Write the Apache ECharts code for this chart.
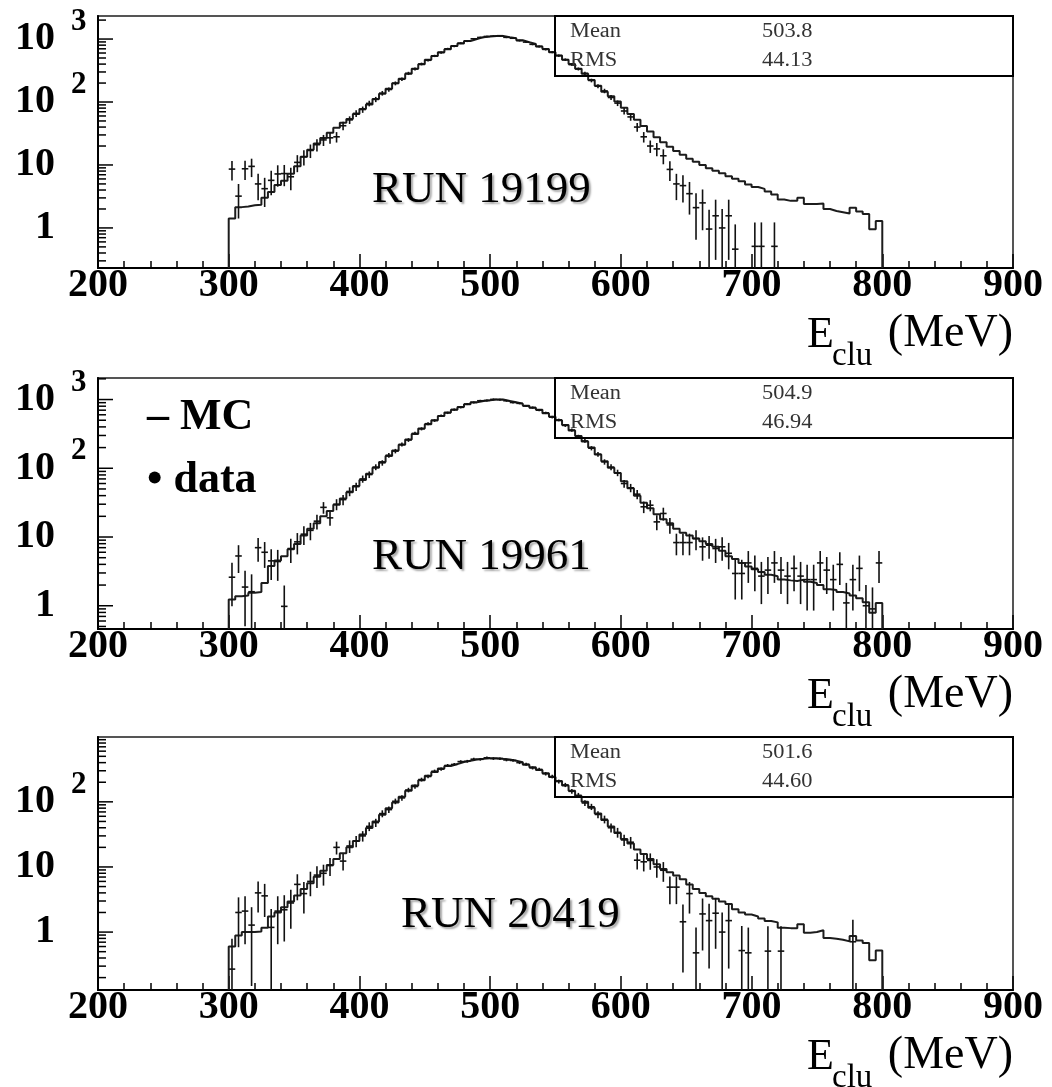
<!DOCTYPE html>
<html>
<head>
<meta charset="utf-8">
<script src="https://cdn.jsdelivr.net/npm/echarts@6/dist/echarts.min.js"></script>
<style>
html,body{margin:0;padding:0;background:#fff;}
#chart{width:1052px;height:1087px;}
</style>
</head>
<body>
<div id="chart"></div>
<script>
// ---------------- data ----------------
const BIN_START = 300;      // first bin low edge (MeV)
const BIN_WIDTH = 5;        // bin width (MeV)
const xTickValues = [200, 300, 400, 500, 600, 700, 800, 900];

const runLabels = ['RUN 19199', 'RUN 19961', 'RUN 20419'];
const statMean  = ['503.8', '504.9', '501.6'];
const statRMS   = ['44.13', '46.94', '44.60'];

const yMin = [0.231, 0.459, 0.129];
const yMax = [2323, 2057, 990];

const yLabelValues = [1, 10, 100, 1000];
const yLabelBase   = ['1', '10', '10', '10'];
const yLabelExp    = ['', '', '2', '3'];

// RUN 19199
const mc19199 = [
  1.41, 2.14, 2.19, 2.29, 2.34, 3.02, 3.72, 4.79, 5.62, 7.24,
  9.55, 13.5, 17.4, 21.9, 26.9, 32.4, 38.9, 46.8, 53.7, 64.6,
  77.6, 91.0, 112, 135, 162, 199, 234, 282, 339, 398,
  468, 537, 617, 688, 776, 851, 933, 1000, 1072, 1096,
  1122, 1122, 1072, 1030, 955, 891, 832, 759, 692, 617,
  550, 468, 402, 339, 282, 224, 182, 146, 123, 102,
  81.3, 64.6, 52.5, 41.7, 33.9, 27.5, 22.9, 19.5, 16.6, 14.5,
  12.6, 11.2, 10.0, 8.91, 8.13, 7.41, 6.61, 6.03, 5.50, 4.90,
  4.47, 4.17, 3.80, 3.39, 2.82, 2.69, 2.69, 3.02, 2.40, 2.40,
  2.45, 2.00, 1.86, 1.78, 1.70, 2.09, 1.82, 1.66, 0.95, 1.29
];
const data19199 = [
  8.6, 3.2, 8.7, 9.5, 5.0, 4.2, 5.7, 7.2, 7.3, 6.5,
  11, 13.5, 17, 21, 25, 27, 28, 42, 52, 66,
  76, 95, 110, 138, 158, 198, 230, 285, 335, 402,
  460, 540, 610, 700, 770, 860, 925, 1010, 1060, 1100,
  1110, 1130, 1065, 1030, 945, 895, 825, 765, 685, 620,
  545, 470, 392, 335, 285, 220, 178, 150, 118, 96,
  72, 58, 40, 28, 20, 18, 14, 8.5, 5.0, 4.7,
  3.5, 2.1, 2.5, 0.96, 1.56, 1.0, 1.56, 0.46, null, null,
  0.51, 0.51, null, 0.51, null, null, null, null, null, null,
  null, null, null, null, null, null, null, null, null, null
];

// RUN 19961
const mc19961 = [
  1.23, 1.38, 1.41, 1.55, 1.58, 2.14, 3.80, 4.57, 5.25, 6.61,
  7.94, 10.5, 13.2, 15.8, 20.0, 24.0, 29.5, 36.3, 44.7, 55.0,
  67.6, 83.2, 102, 123, 151, 182, 219, 263, 316, 380,
  437, 501, 575, 646, 708, 776, 851, 912, 955, 977,
  1000, 1000, 955, 912, 871, 813, 759, 708, 631, 562,
  501, 427, 355, 295, 245, 200, 158, 126, 102, 85.1,
  64.6, 51.3, 39.8, 31.6, 26.3, 21.4, 18.2, 15.8, 13.2, 11.5,
  10.5, 9.55, 8.71, 7.94, 7.24, 6.31, 5.25, 4.79, 4.17, 3.72,
  3.39, 3.09, 2.82, 2.69, 2.40, 2.34, 2.29, 2.40, 2.24, 2.14,
  2.00, 1.74, 1.70, 1.58, 1.51, 1.41, 1.29, 1.12, 0.79, 1.10
];
const data19961 = [
  2.6, 5.3, 1.87, 1.6, 7.0, 6.0, 4.5, 4.4, 0.98, 6.8,
  8.5, 11, 12.5, 17, 27, 19, 30, 35, 46, 54,
  70, 81, 104, 120, 155, 178, 222, 258, 322, 375,
  445, 495, 580, 640, 715, 770, 860, 905, 960, 970,
  1005, 995, 960, 905, 880, 805, 765, 700, 640, 555,
  505, 420, 360, 290, 250, 196, 160, 124, 104, 86,
  60, 52, 42, 27.5, 29, 16.6, 22, 15, 8.3, 8.3,
  8.3, 9.5, 7.2, 7.6, 6.8, 7.2, 5.8, 2.95, 2.95, 4.2,
  3.5, 2.7, 3.3, 4.2, 3.3, 2.7, 3.5, 2.7, 2.4, 2.4,
  4.2, 3.3, 2.4, 4.0, 1.1, 2.4, 3.5, 1.0, 0.9, 4.2
];

// RUN 20419
const mc20419 = [
  0.60, 0.89, 1.00, 1.00, 1.02, 1.17, 1.74, 2.00, 2.40, 2.95,
  3.63, 4.57, 5.62, 7.08, 8.71, 10.7, 13.2, 16.2, 20.0, 25.1,
  31.6, 39.8, 50.1, 63.1, 79.4, 97.7, 120, 148, 178, 214,
  251, 288, 324, 355, 380, 407, 427, 447, 457, 468,
  468, 457, 447, 427, 407, 372, 339, 309, 275, 240,
  209, 178, 148, 123, 100, 81.3, 66.1, 52.5, 41.7, 33.1,
  26.9, 22.9, 18.6, 15.8, 13.2, 11.0, 9.33, 8.32, 7.41, 6.46,
  5.37, 4.57, 3.98, 3.55, 3.24, 2.95, 2.69, 2.24, 2.00, 1.86,
  1.74, 1.62, 1.48, 1.41, 1.17, 1.15, 1.15, 1.32, 0.98, 1.00,
  1.07, 0.81, 0.79, 0.76, 0.72, 0.87, 0.74, 0.68, 0.37, 0.52
];
const data20419 = [
  0.27, 2.0, 2.1, 1.28, 4.0, 3.6, 1.18, 2.1, 2.2, 2.8,
  5.4, 3.9, 6.0, 7.5, 8.0, 10.5, 20, 12.3, 21, 25,
  30, 42, 48, 66, 76, 102, 115, 152, 172, 220,
  245, 295, 318, 362, 375, 415, 420, 452, 450, 475,
  462, 460, 440, 432, 400, 378, 332, 315, 270, 245,
  205, 182, 145, 126, 96, 84, 64, 54, 40, 34,
  26, 24, 12.7, 12, 12.6, 10, 8.9, 4.9, 4.9, 1.44,
  3.9, 0.48, 1.9, 1.5, 1.95, 1.0, 1.5, null, 0.52, 0.48,
  null, null, 0.51, null, 0.51, null, null, null, null, null,
  null, null, null, null, null, 0.71, null, null, null, null
];

const mcSets = [mc19199, mc19961, mc20419];
const dataSets = [data19199, data19961, data20419];

// ---------------- layout ----------------
const PLOT_LEFT = 98, PLOT_WIDTH = 915;
const PANELS = [{top: 16, height: 252}, {top: 378, height: 251}, {top: 737, height: 253}];
const SERIF = '"Liberation Serif", "Times New Roman", serif';

const chart = echarts.init(document.getElementById('chart'), null, {renderer: 'canvas'});

function histPath(vals, floor) {
  const pts = [[BIN_START, floor]];
  vals.forEach((v, i) => {
    const lo = BIN_START + i * BIN_WIDTH;
    pts.push([lo, v], [lo + BIN_WIDTH, v]);
  });
  pts.push([BIN_START + vals.length * BIN_WIDTH, floor]);
  return pts;
}

function dataPoints(vals) {
  const out = [];
  vals.forEach((v, i) => {
    if (v == null || v <= 0) return;
    out.push([BIN_START + (i + 0.5) * BIN_WIDTH, v, Math.sqrt(v)]);
  });
  return out;
}

function logTicks(lo, hi) {
  const out = [];
  for (let e = -2; e <= 4; e++) {
    for (let m = 1; m <= 9; m++) {
      const v = m * Math.pow(10, e);
      if (v >= lo * 0.999 && v <= hi * 1.001) out.push([200, v, m === 1 ? 1 : 0]);
    }
  }
  return out;
}

const grids = [], xAxes = [], yAxes = [], series = [], graphics = [];

PANELS.forEach((pn, p) => {
  grids.push({left: PLOT_LEFT, top: pn.top, width: PLOT_WIDTH, height: pn.height,
    show: true, borderColor: '#555', borderWidth: 2, backgroundColor: 'transparent'});
  xAxes.push({
    type: 'value', gridIndex: p, min: 200, max: 900, interval: 100,
    axisLine: {show: true, onZero: false, lineStyle: {color: '#000', width: 2}},
    axisTick: {show: true, inside: true, length: 14, lineStyle: {color: '#000', width: 1.5}},
    minorTick: {show: true, splitNumber: 5, length: 7, lineStyle: {color: '#000', width: 1.5}},
    splitLine: {show: false}, minorSplitLine: {show: false},
    axisLabel: {show: true, margin: -2, showMinLabel: true, showMaxLabel: true,
      color: '#000', fontFamily: SERIF, fontWeight: 'bold', fontSize: 40,
      formatter: v => (xTickValues.indexOf(v) >= 0 ? String(v) : '')}
  });
  yAxes.push({
    type: 'log', logBase: 10, gridIndex: p, min: yMin[p], max: yMax[p],
    axisLine: {show: true, onZero: false, lineStyle: {color: '#000', width: 2}},
    axisTick: {show: false}, axisLabel: {show: false},
    splitLine: {show: false}, minorTick: {show: false}
  });

  // MC histogram
  series.push({
    type: 'line', name: 'MC', xAxisIndex: p, yAxisIndex: p,
    data: histPath(mcSets[p], yMin[p]), symbol: 'none', showSymbol: false,
    clip: true, lineStyle: {color: '#1c1c1c', width: 2}, animation: false, z: 3
  });

  // data points with error bars
  const lo = yMin[p], hi = yMax[p];
  series.push({
    type: 'custom', name: 'data', xAxisIndex: p, yAxisIndex: p,
    data: dataPoints(dataSets[p]), animation: false, z: 4,
    encode: {x: 0, y: 1},
    renderItem: (params, api) => {
      const xc = api.value(0), v = api.value(1), e = api.value(2);
      const c = api.coord([xc, v]);
      const yTop = api.coord([xc, Math.min(v + e, hi)])[1];
      const yBot = (v - e > lo) ? api.coord([xc, v - e])[1] : api.coord([xc, lo])[1];
      const xl = api.coord([xc - BIN_WIDTH / 2, v])[0];
      const xr = api.coord([xc + BIN_WIDTH / 2, v])[0];
      const st = {stroke: '#111', lineWidth: 1.6};
      return {type: 'group', children: [
        {type: 'line', shape: {x1: c[0], y1: yTop, x2: c[0], y2: yBot}, style: st},
        {type: 'line', shape: {x1: xl, y1: c[1], x2: xr, y2: c[1]}, style: st}
      ]};
    }
  });

  // y axis log ticks (inside, left)
  series.push({
    type: 'custom', name: 'yticks', xAxisIndex: p, yAxisIndex: p,
    data: logTicks(lo, hi), animation: false, silent: true, z: 5,
    encode: {x: 0, y: 1},
    renderItem: (params, api) => {
      const pt = api.coord([200, api.value(1)]);
      const len = api.value(2) ? 15 : 8;
      return {type: 'line', shape: {x1: pt[0], y1: pt[1], x2: pt[0] + len, y2: pt[1]},
        style: {stroke: '#000', lineWidth: 1.5}};
    }
  });

  // y axis labels
  const labData = [];
  yLabelValues.forEach((v, i) => { if (v >= lo && v <= hi) labData.push([200, v, i]); });
  series.push({
    type: 'custom', name: 'ylabels', xAxisIndex: p, yAxisIndex: p,
    data: labData, animation: false, silent: true, z: 5,
    encode: {x: 0, y: 1},
    renderItem: (params, api) => {
      const idx = api.value(2);
      const pt = api.coord([200, api.value(1)]);
      const children = [{type: 'text', x: pt[0] - 43, y: pt[1],
        style: {text: yLabelBase[idx], font: 'bold 40px ' + SERIF, fill: '#000',
          align: 'right', verticalAlign: 'middle', textAlign: 'right', textVerticalAlign: 'middle'}}];
      if (yLabelExp[idx]) {
        children.push({type: 'text', x: pt[0] - 27, y: pt[1] - 17,
          style: {text: yLabelExp[idx], font: 'bold 31px ' + SERIF, fill: '#000',
            align: 'left', verticalAlign: 'middle', textAlign: 'left', textVerticalAlign: 'middle'}});
      }
      return {type: 'group', children};
    }
  });

  // stat box
  const top = pn.top, bottom = pn.top + pn.height;
  graphics.push({type: 'rect', shape: {x: 555, y: top, width: PLOT_LEFT + PLOT_WIDTH - 555, height: 60},
    style: {fill: 'none', stroke: '#000', lineWidth: 2}, z: 10});
  const statTxt = (txt, x, y) => ({type: 'text', x: x, y: y, scaleX: 1.12, z: 11,
    style: {text: txt, font: '20px ' + SERIF, fill: '#333',
      align: 'left', verticalAlign: 'middle', textAlign: 'left', textVerticalAlign: 'middle'}});
  graphics.push(statTxt('Mean', 570, top + 15.5));
  graphics.push(statTxt('RMS', 570, top + 45));
  graphics.push(statTxt(statMean[p], 762, top + 15.5));
  graphics.push(statTxt(statRMS[p], 762, top + 45));

  // run label
  const runX = [372, 372, 401][p];
  const runY = [190, 557.5, 915.5][p];
  graphics.push({type: 'text', x: runX, y: runY, z: 11,
    style: {text: runLabels[p], font: '45px ' + SERIF, fill: '#000',
      align: 'left', verticalAlign: 'middle', textAlign: 'left', textVerticalAlign: 'middle',
      shadowColor: 'rgba(0,0,0,0.35)', shadowOffsetX: 2, shadowOffsetY: 2, shadowBlur: 2,
      textShadowColor: 'rgba(0,0,0,0.35)', textShadowOffsetX: 2, textShadowOffsetY: 2, textShadowBlur: 2}});

  // x axis title  E_clu (MeV)
  graphics.push({type: 'text', x: 807, y: bottom + 67, z: 11,
    style: {text: 'E', font: '44px ' + SERIF, fill: '#000',
      align: 'left', verticalAlign: 'middle', textAlign: 'left', textVerticalAlign: 'middle'}});
  graphics.push({type: 'text', x: 832, y: bottom + 88, z: 11,
    style: {text: 'clu', font: '33px ' + SERIF, fill: '#000',
      align: 'left', verticalAlign: 'middle', textAlign: 'left', textVerticalAlign: 'middle'}});
  graphics.push({type: 'text', x: PLOT_LEFT + PLOT_WIDTH, y: bottom + 66, z: 11,
    style: {text: '(MeV)', font: '46px ' + SERIF, fill: '#000',
      align: 'right', verticalAlign: 'middle', textAlign: 'right', textVerticalAlign: 'middle'}});
});

// legend text in middle panel
graphics.push({type: 'text', x: 147, y: 417.5, z: 11,
  style: {text: '\u2013 MC', font: 'bold 44px ' + SERIF, fill: '#000',
    align: 'left', verticalAlign: 'middle', textAlign: 'left', textVerticalAlign: 'middle'}});
graphics.push({type: 'text', x: 147, y: 480.5, z: 11,
  style: {text: '\u2022 data', font: 'bold 44px ' + SERIF, fill: '#000',
    align: 'left', verticalAlign: 'middle', textAlign: 'left', textVerticalAlign: 'middle'}});

chart.setOption({
  backgroundColor: '#fff',
  animation: false,
  grid: grids,
  xAxis: xAxes,
  yAxis: yAxes,
  series: series,
  graphic: graphics
});
</script>
</body>
</html>
